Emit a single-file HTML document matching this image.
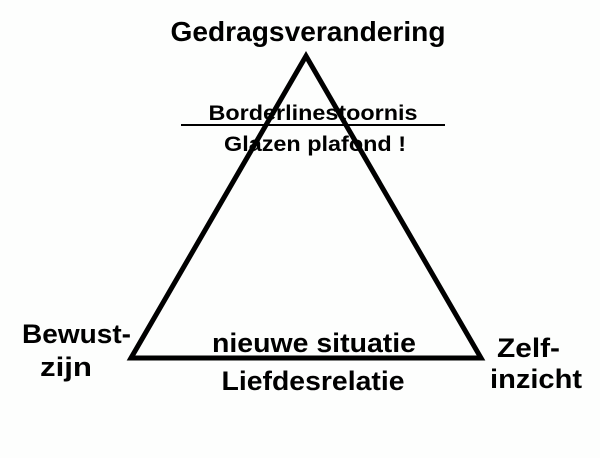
<!DOCTYPE html>
<html><head><meta charset="utf-8"><style>
html,body{margin:0;padding:0;background:#fff;}
svg text{font-family:"Liberation Sans",sans-serif;font-weight:bold;fill:#000;}
</style></head><body>
<svg width="600" height="458" viewBox="0 0 600 458" xmlns="http://www.w3.org/2000/svg">
<rect width="600" height="458" fill="#fdfefd"/>
<polygon points="306,56 131,358 481,358" fill="none" stroke="#000" stroke-width="5" stroke-linejoin="miter"/>
<line x1="181" y1="125" x2="445" y2="125" stroke="#000" stroke-width="2"/>
<text x="308" y="41" font-size="28" text-anchor="middle" textLength="275" lengthAdjust="spacingAndGlyphs">Gedragsverandering</text>
<text x="313" y="120" font-size="21" text-anchor="middle" textLength="209" lengthAdjust="spacingAndGlyphs">Borderlinestoornis</text>
<text x="315" y="151" font-size="21" text-anchor="middle" textLength="182" lengthAdjust="spacingAndGlyphs">Glazen plafond !</text>
<text x="314" y="352" font-size="27" text-anchor="middle" textLength="204" lengthAdjust="spacingAndGlyphs">nieuwe situatie</text>
<text x="313" y="390" font-size="27" text-anchor="middle" textLength="183" lengthAdjust="spacingAndGlyphs">Liefdesrelatie</text>
<text x="22" y="343" font-size="27" textLength="109" lengthAdjust="spacingAndGlyphs">Bewust-</text>
<text x="40" y="376" font-size="27" textLength="52" lengthAdjust="spacingAndGlyphs">zijn</text>
<text x="497" y="357" font-size="27" textLength="63" lengthAdjust="spacingAndGlyphs">Zelf-</text>
<text x="490" y="388" font-size="27" textLength="92" lengthAdjust="spacingAndGlyphs">inzicht</text>
</svg>
</body></html>
